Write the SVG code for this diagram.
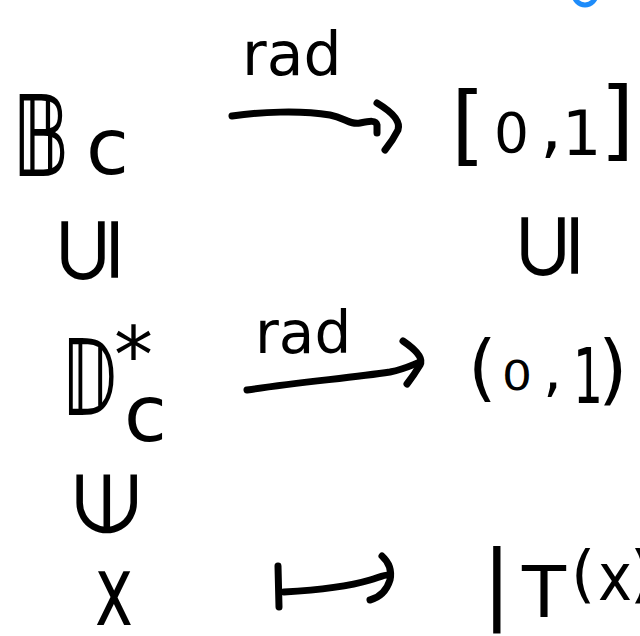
<svg xmlns="http://www.w3.org/2000/svg" width="640" height="636" viewBox="0 0 640 636">
<style>
.ink{fill:none;stroke:#000;stroke-width:7;stroke-linecap:round;stroke-linejoin:round}
.t{font-family:"DejaVu Sans","Liberation Sans",sans-serif;fill:#000}
.bb{font-weight:bold}
</style>
<rect width="640" height="636" fill="#fff"/>
<circle cx="585" cy="-6" r="11" fill="none" stroke="#1e8cfa" stroke-width="5"/>
<g id="node-B">
  <text class="t bb" x="13" y="176" font-size="112" textLength="56" lengthAdjust="spacingAndGlyphs">𝔹</text>
  <text class="t" x="86" y="174" font-size="78">c</text>
</g>
<g id="node-closed-interval">
  <text class="t" x="451" y="154" font-size="88">[</text>
  <text class="t" x="494" y="152" font-size="55">0</text>
  <text class="t" x="540" y="150" font-size="70">,</text>
  <text class="t" x="562" y="155" font-size="62">1</text>
  <text class="t" x="600" y="149" font-size="88">]</text>
</g>
<g id="node-subset-left">
  <text class="t" transform="translate(88,250) rotate(-90)" text-anchor="middle" dy="0.33em" font-size="92">⊆</text>
</g>
<g id="node-subset-right">
  <text class="t" transform="translate(548,246) rotate(-90)" text-anchor="middle" dy="0.33em" font-size="92">⊆</text>
</g>
<g id="node-D">
  <text class="t bb" x="63" y="415" font-size="105" textLength="54" lengthAdjust="spacingAndGlyphs">𝔻</text>
  <text class="t" x="114" y="382" font-size="78">*</text>
  <text class="t" x="124" y="441" font-size="78">c</text>
</g>
<g id="node-open-interval">
  <text class="t" x="468" y="393" font-size="73">(</text>
  <text class="t" x="502" y="390" font-size="40" textLength="30" lengthAdjust="spacingAndGlyphs">0</text>
  <text class="t" x="543" y="390" font-size="60">,</text>
  <text class="t" x="573" y="403" font-size="76" textLength="30" lengthAdjust="spacingAndGlyphs">1</text>
  <text class="t" x="598" y="395" font-size="76">)</text>
</g>
<g id="node-element">
  <text class="t" transform="translate(111,504) rotate(-90)" text-anchor="middle" dy="0.3em" font-size="84">∈</text>
</g>
<g id="node-x">
  <text class="t" x="95" y="625" font-size="98" textLength="38" lengthAdjust="spacingAndGlyphs">x</text>
</g>
<g id="node-Tx">
  <text class="t" x="482" y="612" font-size="88">|</text>
  <text class="t" x="522" y="617" font-size="72">T</text>
  <text class="t" x="571" y="595" font-size="62">(</text>
  <text class="t" x="598" y="600" font-size="66" textLength="34" lengthAdjust="spacingAndGlyphs">x</text>
  <text class="t" x="630" y="595" font-size="62">)</text>
</g>
<g id="connectors">
  <g id="arrow-rad-top">
    <path class="ink" d="M232,116 C260,112 300,110 330,115 C345,118 350,125 360,123 C370,121 376,120 377,125 L377,133"/>
    <path class="ink" d="M377,103 Q402,118 398,130 Q393,140 385,150"/>
    <text class="t" x="242" y="75" font-size="60">rad</text>
  </g>
  <g id="arrow-rad-middle">
    <path class="ink" d="M247,390 C300,382 350,378 390,372 C405,369 412,365 420,362"/>
    <path class="ink" d="M403,341 Q425,356 420,365 Q414,375 407,384"/>
    <text class="t" x="255" y="353" font-size="58">rad</text>
  </g>
  <g id="arrow-mapsto">
    <path class="ink" d="M278,566 L279,607"/>
    <path class="ink" d="M284,592 C320,590 350,586 370,580 C380,577 386,574 390,575"/>
    <path class="ink" d="M382,556 Q393,566 390,580 Q385,596 370,600"/>
  </g>
</g>
</svg>
